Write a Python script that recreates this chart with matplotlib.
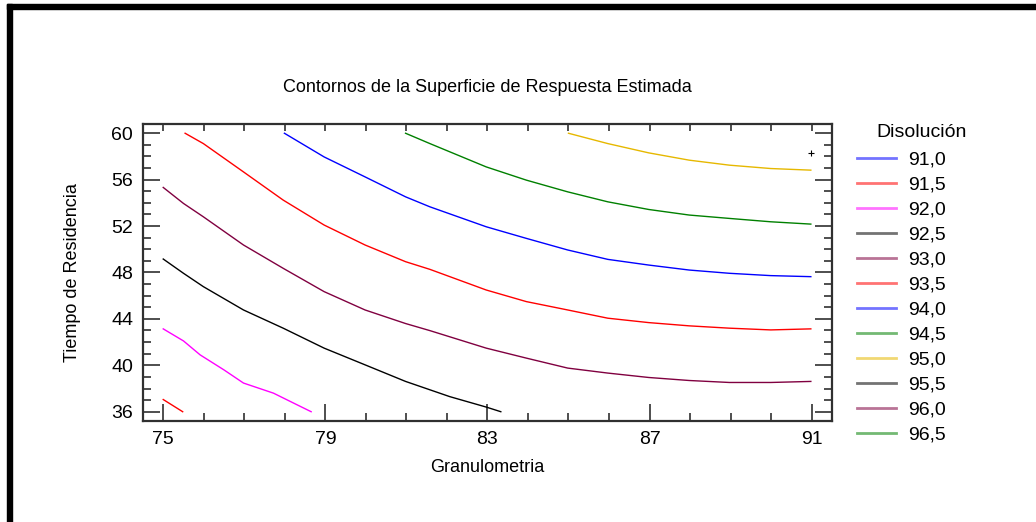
import matplotlib.pyplot as plt
from matplotlib.lines import Line2D
from matplotlib.patches import Rectangle
from matplotlib.ticker import MultipleLocator

plt.rcParams['font.family'] = ['Liberation Sans', 'DejaVu Sans']

# contour levels of the fitted surface and their colours
levels = ["91,0", "91,5", "92,0", "92,5", "93,0", "93,5",
          "94,0", "94,5", "95,0", "95,5", "96,0", "96,5"]
level_colors = ["#0000ff", "#ff0000", "#ff00ff", "#000000", "#800040", "#ff0000",
                "#0000ff", "#008000", "#e6b800", "#000000", "#800040", "#008000"]

x_ticks = [75, 79, 83, 87, 91]
y_ticks = [36, 40, 44, 48, 52, 56, 60]

# traced contour lines (Granulometria, Tiempo de Residencia)
c915_x = [75.0, 75.48]
c915_y = [37.05, 36.0]
c920_x = [75.0, 75.5, 75.91, 76.5, 76.98, 77.72, 78.3, 78.65]
c920_y = [43.14, 42.1, 40.9, 39.6, 38.47, 37.6, 36.6, 36.0]
c925_x = [75.0, 75.5, 75.99, 76.98, 77.96, 78.97, 79.98, 80.98, 82.07, 82.97, 83.33]
c925_y = [49.16, 47.93, 46.78, 44.77, 43.2, 41.48, 40.04, 38.61, 37.3, 36.4, 36.0]
c930_x = [75.0, 75.5, 75.99, 76.98, 77.96, 78.97, 79.98, 80.98, 81.58, 82.97,
          83.96, 84.98, 85.97, 86.98, 87.98, 88.97, 89.99, 90.98]
c930_y = [55.33, 53.95, 52.8, 50.37, 48.36, 46.35, 44.77, 43.6, 42.99, 41.48,
          40.62, 39.76, 39.33, 38.95, 38.69, 38.52, 38.52, 38.61]
c935_x = [75.54, 75.99, 76.98, 77.96, 78.97, 79.98, 80.98, 81.58, 82.97, 83.96,
          84.98, 85.97, 86.98, 87.98, 88.97, 89.99, 90.98]
c935_y = [60.0, 59.11, 56.67, 54.24, 52.09, 50.37, 48.93, 48.27, 46.49, 45.49,
          44.77, 44.06, 43.68, 43.4, 43.2, 43.05, 43.14]
c940_x = [77.99, 78.97, 79.98, 80.98, 81.58, 82.97, 83.96, 84.98, 85.97, 86.98,
          87.98, 88.97, 89.99, 90.98]
c940_y = [60.0, 57.96, 56.24, 54.52, 53.66, 51.94, 50.94, 49.94, 49.13, 48.64,
          48.21, 47.93, 47.73, 47.64]
c945_x = [80.98, 81.58, 82.97, 83.96, 84.98, 85.97, 86.98, 87.98, 88.97, 89.99, 90.98]
c945_y = [60.0, 59.11, 57.1, 55.96, 54.95, 54.09, 53.43, 52.95, 52.66, 52.37, 52.17]
c950_x = [85.0, 85.97, 86.98, 87.98, 88.97, 89.99, 90.98]
c950_y = [60.0, 59.11, 58.31, 57.68, 57.25, 56.96, 56.82]

# design point marker
point_x = [90.98]
point_y = [58.34]

contours = [
    (c915_x, c915_y, level_colors[1]),
    (c920_x, c920_y, level_colors[2]),
    (c925_x, c925_y, level_colors[3]),
    (c930_x, c930_y, level_colors[4]),
    (c935_x, c935_y, level_colors[5]),
    (c940_x, c940_y, level_colors[6]),
    (c945_x, c945_y, level_colors[7]),
    (c950_x, c950_y, level_colors[8]),
]

fig = plt.figure(figsize=(10.36, 5.22), dpi=100)
ax = fig.add_axes([0.138, 0.1935, 0.665, 0.569])

for xs, ys, col in contours:
    ax.plot(xs, ys, color=col, lw=1.0)
ax.plot(point_x, point_y, marker="+", color="black", ms=4, mew=0.8, ls="none")

ax.set_xlim(74.5, 91.5)
ax.set_ylim(35.2, 60.8)

ax.set_xticks(x_ticks)
ax.xaxis.set_minor_locator(MultipleLocator(1))
ax.set_yticks(y_ticks)
ax.yaxis.set_minor_locator(MultipleLocator(1))
ax.tick_params(which="both", direction="in", left=True, right=True,
               top=False, bottom=True, color="#303030", width=1.2,
               labelsize=14, labelcolor="black")
ax.tick_params(which="major", length=12, pad=7)
ax.tick_params(which="minor", length=6)

# short ticks along the top edge
top = ax.secondary_xaxis("top")
top.xaxis.set_major_locator(MultipleLocator(1))
top.tick_params(direction="in", length=5, width=1.2, color="#303030",
                labeltop=False)
top.spines["top"].set_visible(False)

for s in ax.spines.values():
    s.set_color("#303030")
    s.set_linewidth(1.6)

ax.set_title("Contornos de la Superficie de Respuesta Estimada",
             fontsize=13, pad=23)
ax.set_xlabel("Granulometria", fontsize=13, labelpad=8)
ax.set_ylabel("Tiempo de Residencia", fontsize=13, labelpad=22)

handles = [Line2D([], [], color=c, lw=2, alpha=0.55) for c in level_colors]
leg = fig.legend(handles, levels, loc="upper left",
                 bbox_to_anchor=(0.820, 0.726), frameon=False,
                 fontsize=14, handlelength=2.0,
                 handletextpad=0.6, labelspacing=0.38, borderaxespad=0)
fig.text(876 / 1036, 1 - 133 / 522, "Disolución", fontsize=14,
         ha="left", va="center")

# heavy frame on the top and left edges
fig.patches.append(Rectangle((0.0068, 0.983), 0.9932, 0.0096,
                             transform=fig.transFigure, color="black"))
fig.patches.append(Rectangle((0.0068, 0.0), 0.0048, 0.992,
                             transform=fig.transFigure, color="black"))

fig.savefig("out.png", dpi=100)
